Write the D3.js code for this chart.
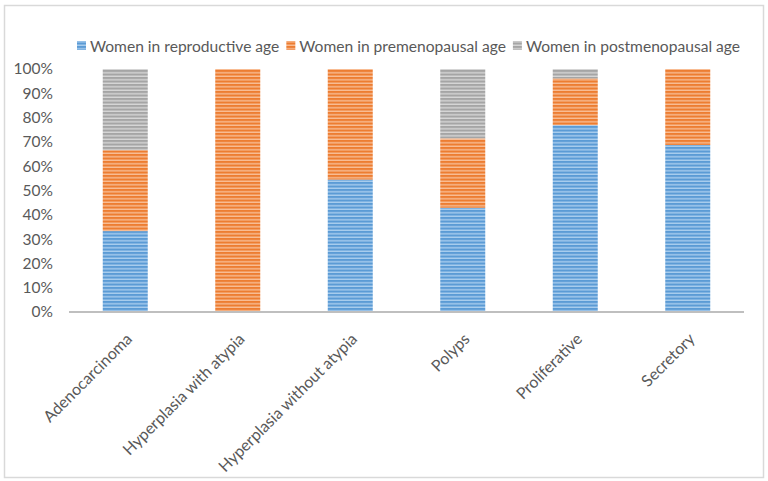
<!DOCTYPE html>
<html><head><meta charset="utf-8">
<script src="https://cdn.jsdelivr.net/npm/d3@7"></script>
<style>body{margin:0;background:#fff}svg{display:block}text{font-family:Lato,"Open Sans",sans-serif;fill:#595959}</style>
</head><body>
<svg id="c" width="768" height="481"></svg>
<script>
const categories = ["Adenocarcinoma","Hyperplasia with atypia","Hyperplasia without atypia","Polyps","Proliferative","Secretory"];
const seriesNames = ["Women in reproductive age","Women in premenopausal age","Women in postmenopausal age"];
const reproductive = [33.3, 0, 54.5, 42.9, 76.9, 68.75];
const premenopausal = [33.3, 100, 45.5, 28.55, 19.2, 31.25];
const postmenopausal = [33.4, 0, 0, 28.55, 3.9, 0];
const yTicks = [0,10,20,30,40,50,60,70,80,90,100];

const colors = [["#5B9BD5","#A9CDEE"],["#ED7D31","#F8BE96"],["#A5A5A5","#D6D6D6"]];
const svg = d3.select("#c");
svg.append("rect").attr("x",4.5).attr("y",5.5).attr("width",759).attr("height",472)
  .attr("fill","#fff").attr("stroke","#D9D9D9").attr("stroke-width",1.5);

const defs = svg.append("defs");
colors.forEach((c,i)=>{
  const p = defs.append("pattern").attr("id","p"+i).attr("patternUnits","userSpaceOnUse")
    .attr("width",8).attr("height",3.5);
  p.append("rect").attr("width",8).attr("height",3.5).attr("fill",c[0]);
  p.append("rect").attr("y",2.1).attr("width",8).attr("height",1.4).attr("fill",c[1]);
});

const m = {l:69, r:744, t:69, b:312};
const x = d3.scaleBand().domain(categories).range([m.l,m.r]).paddingInner(0.6).paddingOuter(0.3);
const y = d3.scaleLinear().domain([0,100]).range([m.b,m.t]);

const rows = categories.map((c,i)=>({cat:c, s0:reproductive[i], s1:premenopausal[i], s2:postmenopausal[i]}));
const stack = d3.stack().keys(["s0","s1","s2"])(rows);

svg.append("g").selectAll("g").data(stack).join("g")
  .attr("fill",(d,i)=>"url(#p"+i+")")
  .selectAll("rect").data(d=>d).join("rect")
  .attr("x",d=>x(d.data.cat)).attr("width",x.bandwidth())
  .attr("y",d=>y(d[1])).attr("height",d=>Math.max(0,y(d[0])-y(d[1])));

// y axis labels
const ya = svg.append("g").attr("transform",`translate(${m.l},0)`)
  .call(d3.axisLeft(y).tickValues(yTicks).tickFormat(d=>d+"%").tickSize(0).tickPadding(16));
ya.select(".domain").remove();
ya.selectAll("text").attr("font-size",15.5).attr("fill","#595959").attr("font-family","Lato");

// x axis
const xa = svg.append("g").attr("transform",`translate(0,${m.b})`)
  .call(d3.axisBottom(x).tickSize(0).tickPadding(0));
xa.select(".domain").attr("stroke","#BFBFBF").attr("stroke-width",2)
  .attr("d",`M${m.l},0H${m.r}`);
xa.selectAll("text").attr("font-size",16).attr("fill","#595959").attr("font-family","Lato")
  .attr("text-anchor","end").attr("dy",0).attr("y",0)
  .attr("transform","translate(8,28) rotate(-45)");

// legend
const lg = svg.append("g").attr("transform","translate(0,46)");
let lx = 77;
seriesNames.forEach((n,i)=>{
  lg.append("rect").attr("x",lx).attr("y",-5).attr("width",9).attr("height",9).attr("fill","url(#p"+i+")");
  const t = lg.append("text").attr("x",lx+13).attr("y",5.5).attr("font-size",15.6).text(n);
  lx += 13 + t.node().getComputedTextLength() + 7;
});
</script>
</body></html>
